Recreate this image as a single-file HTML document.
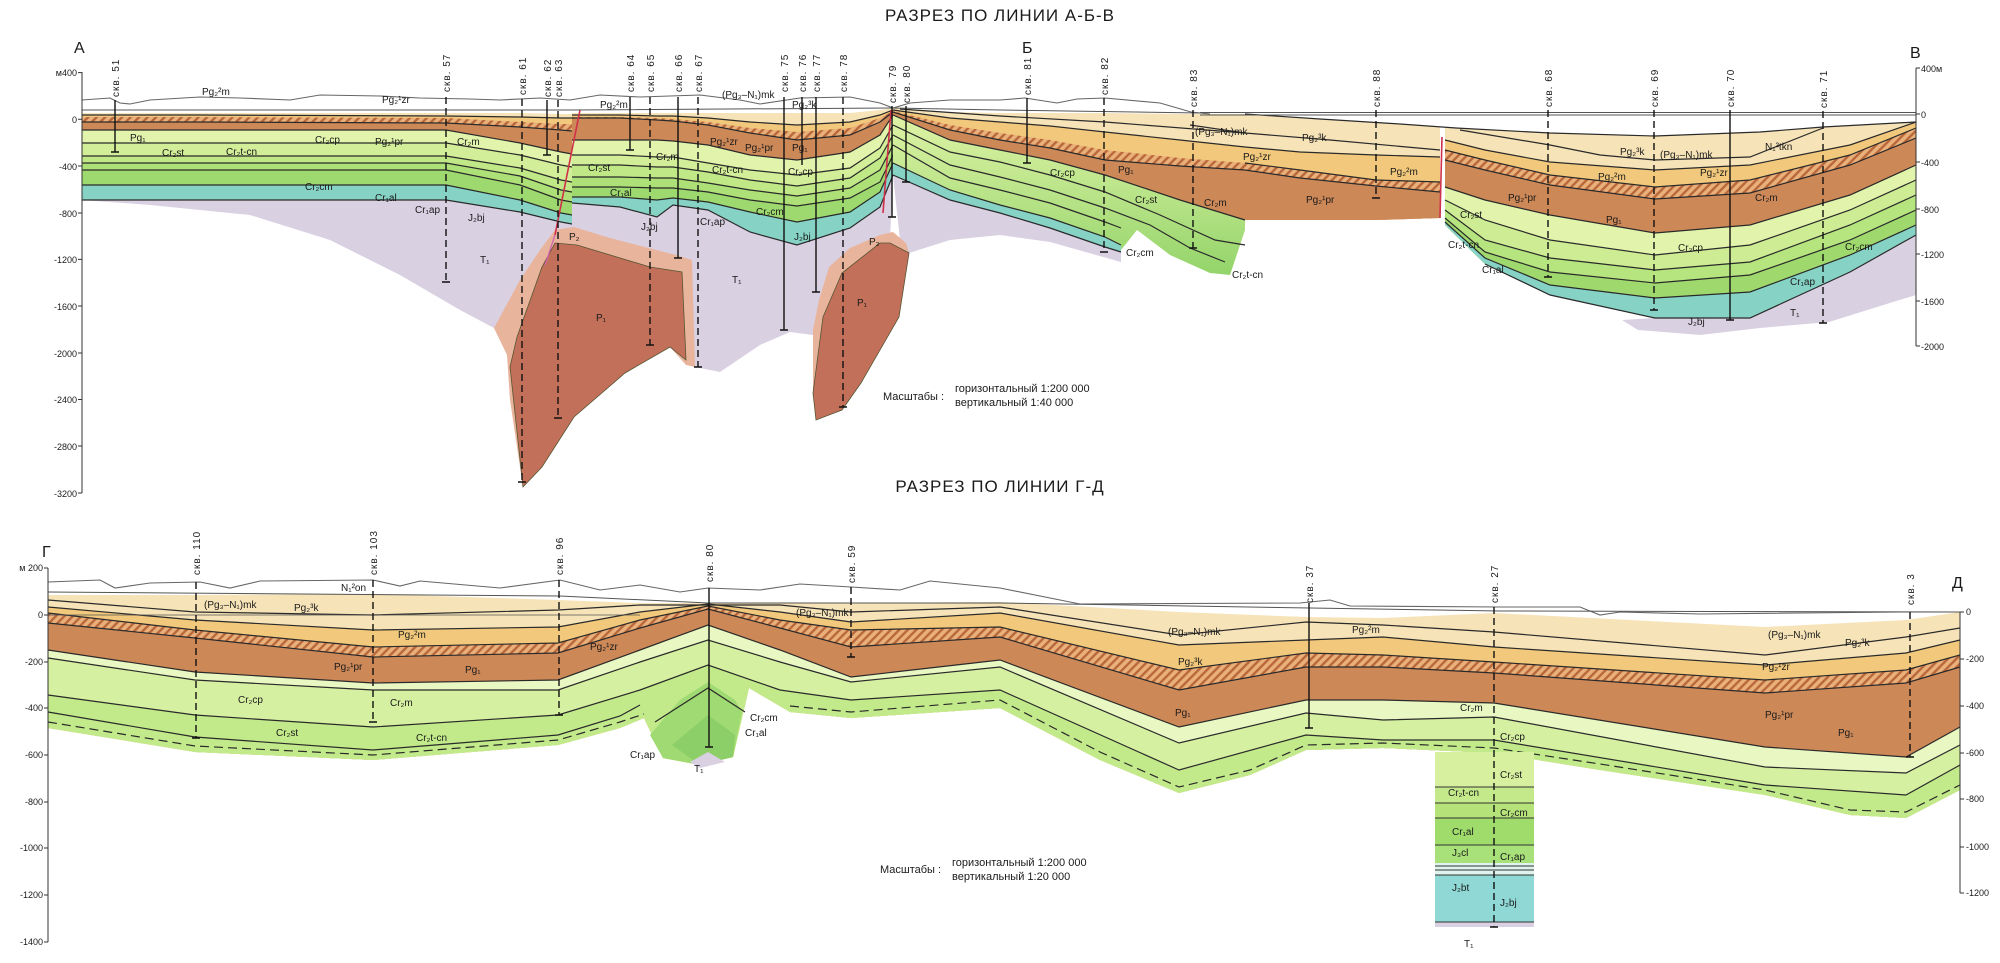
<!DOCTYPE html>
<html><head><meta charset="utf-8"><style>
html,body{margin:0;padding:0;background:#fff;}
svg{display:block;}
text{font-family:"Liberation Sans",sans-serif;fill:#1a1a1a;}
.l{font-size:10px;}
.w{font-size:10px;letter-spacing:1px;}
.ax{font-size:9px;}
.hz{fill:none;stroke:#2a2a2a;stroke-width:1.2;}
</style></head><body>
<svg width="2000" height="963" viewBox="0 0 2000 963" xmlns="http://www.w3.org/2000/svg">
<defs>
<pattern id="h" width="6" height="6" patternUnits="userSpaceOnUse" patternTransform="rotate(45)"><rect width="6" height="6" fill="#eab07a"/><rect width="2.4" height="6" fill="#b9683c"/></pattern>
<linearGradient id="gb" x1="0" y1="0" x2="0" y2="1"><stop offset="0" stop-color="#dff3a6"/><stop offset="1" stop-color="#93d46a"/></linearGradient>
</defs>
<rect width="2000" height="963" fill="#fff"/>

<text x="1000" y="21" text-anchor="middle" style="font-size:17px;letter-spacing:1px">РАЗРЕЗ ПО ЛИНИИ А-Б-В</text>
<text x="1000" y="492" text-anchor="middle" style="font-size:17px;letter-spacing:1px">РАЗРЕЗ ПО ЛИНИИ Г-Д</text>
<text x="74" y="53" style="font-size:16px">А</text>
<text x="1022" y="53" style="font-size:16px">Б</text>
<text x="1910" y="58" style="font-size:16px">В</text>
<text x="42" y="557" style="font-size:16px">Г</text>
<text x="1952" y="588" style="font-size:16px">Д</text>

<polygon fill="#d9d0e2" points="82,200 150,205 250,215 330,240 400,275 460,310 494,328 520,380 560,360 600,340 650,330 695,367 720,372 760,345 790,332 813,335 840,300 890,240 893,175 880,207 850,228 797,245 750,232 708,210 673,205 657,217 620,207 572,203 572,224 561,222 520,212 446,200 200,200"/>
<polygon fill="#d9d0e2" points="893,175 950,200 1000,213 1050,228 1105,247 1121,252 1121,262 1050,242 1000,235 950,240 909,253 900,240"/>
<polygon fill="#d9d0e2" points="1622,320 1655,318 1750,318 1850,272 1916,235 1916,295 1893,302 1829,322 1760,328 1700,335 1638,330"/>
<polygon fill="#e9b49c" points="494,328 520,280 540,250 555,230 574,227 610,238 676,255 692,260 695,367 686,365 670,347 625,373 574,417 542,467 523,487 510,400 507,355"/>
<polygon fill="#c2705a" stroke="#553" stroke-width="0.8" points="555,243 577,245 650,267 682,272 686,360 670,347 625,373 574,417 542,467 523,487 510,367 517,337 542,267"/>
<polygon fill="#e9b49c" points="813,330 819,300 829,267 850,248 880,235 893,232 906,243 909,253 899,317 861,383 842,410 816,420 813,393"/>
<polygon fill="#c2705a" stroke="#553" stroke-width="0.8" points="880,243 890,243 909,253 899,317 861,383 842,410 816,420 813,393 823,317 842,273"/>

<g>
<polygon fill="#f6e3b8" points="82,113 200,113 446,113 520,113 561,114 572,114 572,224 561,222 520,212 446,200 200,200 82,200"/>
<polygon fill="#f2c97c" points="82,115 200,115 446,116 520,117 561,118 572,118 572,224 561,222 520,212 446,200 200,200 82,200"/>
<polygon fill="url(#h)" points="82,117 200,117 446,118 520,122 561,124 572,124 572,224 561,222 520,212 446,200 200,200 82,200"/>
<polygon fill="#cd8858" points="82,122 200,122 446,123 520,127 561,130 572,131 572,224 561,222 520,212 446,200 200,200 82,200"/>
<polygon fill="#e2f4ac" points="82,130 200,130 446,130 520,143 561,152 572,154 572,224 561,222 520,212 446,200 200,200 82,200"/>
<polygon fill="#d2ee98" points="82,143 200,143 446,143 520,155 561,165 572,167 572,224 561,222 520,212 446,200 200,200 82,200"/>
<polygon fill="#c0e886" points="82,156 200,156 446,156 520,168 561,180 572,182 572,224 561,222 520,212 446,200 200,200 82,200"/>
<polygon fill="#aee078" points="82,163 200,163 446,163 520,176 561,190 572,192 572,224 561,222 520,212 446,200 200,200 82,200"/>
<polygon fill="#9dd96e" points="82,170 200,170 446,170 520,185 561,200 572,202 572,224 561,222 520,212 446,200 200,200 82,200"/>
<polygon fill="#86d3c6" points="82,185 200,185 446,185 520,200 561,213 572,215 572,224 561,222 520,212 446,200 200,200 82,200"/>
<polyline class="hz" points="82,122 200,122 446,123 520,127 561,130 572,131"/>
<polyline class="hz" points="82,130 200,130 446,130 520,143 561,152 572,154"/>
<polyline class="hz" points="82,143 200,143 446,143 520,155 561,165 572,167"/>
<polyline class="hz" points="82,156 200,156 446,156 520,168 561,180 572,182"/>
<polyline class="hz" points="82,163 200,163 446,163 520,176 561,190 572,192"/>
<polyline class="hz" points="82,170 200,170 446,170 520,185 561,200 572,202"/>
<polyline class="hz" points="82,185 200,185 446,185 520,200 561,213 572,215"/>
<polyline class="hz" points="82,200 200,200 446,200 520,212 561,222 572,224"/>
<polyline class="hz" stroke-width="0.8" points="82,115 200,115 446,116 520,117 561,118 572,118"/>
</g>

<g>
<polygon fill="#f6e3b8" points="572,113 620,113 657,113 673,113 708,113 750,113 797,113 850,113 880,110 893,108 893,175 880,207 850,228 797,245 750,232 708,210 673,205 657,217 620,207 572,203"/>
<polygon fill="#f2c97c" points="572,115 620,115 657,116 673,116 708,118 750,122 797,125 850,122 880,115 893,110 893,175 880,207 850,228 797,245 750,232 708,210 673,205 657,217 620,207 572,203"/>
<polygon fill="url(#h)" points="572,117 620,117 657,118 673,119 708,122 750,128 797,132 850,128 880,118 893,111 893,175 880,207 850,228 797,245 750,232 708,210 673,205 657,217 620,207 572,203"/>
<polygon fill="#cd8858" points="572,118 620,118 657,120 673,121 708,125 750,133 797,140 850,135 880,122 893,112 893,175 880,207 850,228 797,245 750,232 708,210 673,205 657,217 620,207 572,203"/>
<polygon fill="#e2f4ac" points="572,140 620,140 657,140 673,141 708,145 750,155 797,160 850,152 880,135 893,115 893,175 880,207 850,228 797,245 750,232 708,210 673,205 657,217 620,207 572,203"/>
<polygon fill="#d2ee98" points="572,155 620,155 657,157 673,157 708,163 750,170 797,175 850,168 880,148 893,125 893,175 880,207 850,228 797,245 750,232 708,210 673,205 657,217 620,207 572,203"/>
<polygon fill="#c0e886" points="572,165 620,165 657,167 673,167 708,172 750,180 797,186 850,178 880,158 893,135 893,175 880,207 850,228 797,245 750,232 708,210 673,205 657,217 620,207 572,203"/>
<polygon fill="#aee078" points="572,177 620,177 657,178 673,178 708,183 750,190 797,196 850,188 880,170 893,145 893,175 880,207 850,228 797,245 750,232 708,210 673,205 657,217 620,207 572,203"/>
<polygon fill="#9dd96e" points="572,187 620,187 657,188 673,188 708,192 750,200 797,206 850,198 880,182 893,155 893,175 880,207 850,228 797,245 750,232 708,210 673,205 657,217 620,207 572,203"/>
<polygon fill="#86d3c6" points="572,197 620,197 657,200 673,198 708,202 750,212 797,222 850,212 880,192 893,163 893,175 880,207 850,228 797,245 750,232 708,210 673,205 657,217 620,207 572,203"/>
<polyline class="hz" stroke-width="0.8" points="572,115 620,115 657,116 673,116 708,118 750,122 797,125 850,122 880,115 893,110"/>
<polyline class="hz" points="572,118 620,118 657,120 673,121 708,125 750,133 797,140 850,135 880,122 893,112"/>
<polyline class="hz" points="572,140 620,140 657,140 673,141 708,145 750,155 797,160 850,152 880,135 893,115"/>
<polyline class="hz" points="572,155 620,155 657,157 673,157 708,163 750,170 797,175 850,168 880,148 893,125"/>
<polyline class="hz" points="572,165 620,165 657,167 673,167 708,172 750,180 797,186 850,178 880,158 893,135"/>
<polyline class="hz" points="572,177 620,177 657,178 673,178 708,183 750,190 797,196 850,188 880,170 893,145"/>
<polyline class="hz" points="572,187 620,187 657,188 673,188 708,192 750,200 797,206 850,198 880,182 893,155"/>
<polyline class="hz" points="572,197 620,197 657,200 673,198 708,202 750,212 797,222 850,212 880,192 893,163"/>
<polyline class="hz" points="572,203 620,207 657,217 673,205 708,210 750,232 797,245 850,228 880,207 893,175"/>
</g>

<g>
<polygon fill="#f6e3b8" points="893,108 950,112 1000,113 1050,113 1105,113 1180,114 1245,114 1245,220 1180,200 1105,175 1050,160 1000,150 950,140 893,115"/>
<polygon fill="#f2c97c" points="893,110 950,118 1000,122 1050,126 1105,132 1180,140 1245,147 1245,220 1180,200 1105,175 1050,160 1000,150 950,140 893,115"/>
<polygon fill="#f6e3b8" points="893,110 950,118 1000,122 1050,126 1105,130 1180,136 1245,140 1245,147 1180,140 1105,132 1050,126 1000,122 950,118"/>
<polygon fill="url(#h)" points="893,111 950,125 1000,133 1050,140 1105,150 1180,158 1245,163 1245,220 1180,200 1105,175 1050,160 1000,150 950,140 893,115"/>
<polygon fill="#cd8858" points="893,112 950,130 1000,140 1050,148 1105,160 1180,166 1245,170 1245,220 1180,200 1105,175 1050,160 1000,150 950,140 893,115"/>
<polygon fill="url(#gb)" points="893,115 950,140 1000,150 1050,160 1105,175 1180,200 1245,220 1245,230 1230,275 1210,273 1170,255 1137,230 1121,250 1121,252 1105,247 1050,228 1000,213 950,200 893,175"/>
<polygon fill="#86d3c6" points="893,163 950,190 1000,205 1050,218 1105,237 1121,245 1121,252 1105,247 1050,228 1000,213 950,200 893,175"/>
<polyline class="hz" points="893,115 950,140 1000,150 1050,160 1105,175 1180,200 1245,220"/>
<polyline class="hz" points="893,112 950,130 1000,140 1050,148 1105,160 1180,166 1245,170"/>
<polyline class="hz" stroke-width="0.8" points="893,110 950,118 1000,122 1050,126 1105,132 1180,140 1245,147"/>
<polyline class="hz" stroke-width="0.8" points="900,109 1000,116 1105,122 1245,133"/>
<polyline class="hz" points="893,125 950,152 1000,162 1050,175 1105,192 1160,215 1215,240 1245,245"/>
<polyline class="hz" points="893,135 950,165 1000,177 1050,190 1105,208 1150,225 1190,248 1225,262"/>
<polyline class="hz" points="893,145 950,178 1000,190 1050,203 1105,222 1121,228"/>
<polyline class="hz" points="893,163 950,190 1000,205 1050,218 1105,237 1121,245"/>
<polyline class="hz" points="893,175 950,200 1000,213 1050,228 1105,247 1121,252"/>
</g>
<g>
<polygon fill="#f6e3b8" points="1245,114 1300,114 1376,114 1440,114 1440,218 1376,220 1300,220 1245,220"/>
<polygon fill="#f2c97c" points="1245,147 1300,152 1376,155 1440,157 1440,218 1376,220 1300,220 1245,220"/>
<polygon fill="url(#h)" points="1245,163 1300,170 1376,180 1440,182 1440,218 1376,220 1300,220 1245,220"/>
<polygon fill="#cd8858" points="1245,170 1300,178 1376,186 1440,192 1440,218 1376,220 1300,220 1245,220"/>
<polyline class="hz" points="1245,170 1300,178 1376,186 1440,192"/>
<polyline class="hz" points="1245,163 1300,170 1376,180 1440,182"/>
<polyline class="hz" points="1245,147 1300,152 1376,155 1440,157"/>
<polyline class="hz" stroke-width="0.8" points="1190,125 1245,133 1330,140 1440,150"/>
</g>
<g>
<polygon fill="#f6e3b8" points="1445,114 1485,114 1550,114 1655,114 1750,114 1850,114 1916,114 1916,235 1850,272 1750,318 1655,318 1550,295 1485,264 1445,225"/>
<polygon fill="#f2c97c" points="1445,140 1485,150 1550,162 1655,170 1750,165 1850,145 1916,122 1916,235 1850,272 1750,318 1655,318 1550,295 1485,264 1445,225"/>
<polygon fill="url(#h)" points="1445,150 1485,160 1550,175 1655,187 1750,180 1850,155 1916,128 1916,235 1850,272 1750,318 1655,318 1550,295 1485,264 1445,225"/>
<polygon fill="#cd8858" points="1445,160 1485,170 1550,185 1655,199 1750,193 1850,165 1916,138 1916,235 1850,272 1750,318 1655,318 1550,295 1485,264 1445,225"/>
<polygon fill="#e2f4ac" points="1445,187 1485,200 1550,215 1655,233 1750,225 1850,195 1916,165 1916,235 1850,272 1750,318 1655,318 1550,295 1485,264 1445,225"/>
<polygon fill="#cdec94" points="1445,200 1485,220 1550,240 1655,255 1750,245 1850,210 1916,180 1916,235 1850,272 1750,318 1655,318 1550,295 1485,264 1445,225"/>
<polygon fill="#b6e47e" points="1445,210 1485,240 1550,258 1655,270 1750,262 1850,225 1916,195 1916,235 1850,272 1750,318 1655,318 1550,295 1485,264 1445,225"/>
<polygon fill="#9fd96e" points="1445,218 1485,252 1550,272 1655,283 1750,275 1850,240 1916,210 1916,235 1850,272 1750,318 1655,318 1550,295 1485,264 1445,225"/>
<polygon fill="#86d3c6" points="1445,222 1485,258 1550,285 1655,298 1750,292 1850,255 1916,225 1916,235 1850,272 1750,318 1655,318 1550,295 1485,264 1445,225"/>
<polyline class="hz" stroke-width="0.8" points="1460,130 1550,145 1600,155 1655,160 1750,157 1823,128"/>
<polyline class="hz" points="1445,140 1485,150 1550,162 1655,170 1750,165 1850,145 1916,122"/>
<polyline class="hz" points="1445,150 1485,160 1550,175 1655,187 1750,180 1850,155 1916,128"/>
<polyline class="hz" points="1445,160 1485,170 1550,185 1655,199 1750,193 1850,165 1916,138"/>
<polyline class="hz" points="1445,187 1485,200 1550,215 1655,233 1750,225 1850,195 1916,165"/>
<polyline class="hz" points="1445,200 1485,220 1550,240 1655,255 1750,245 1850,210 1916,180"/>
<polyline class="hz" points="1445,210 1485,240 1550,258 1655,270 1750,262 1850,225 1916,195"/>
<polyline class="hz" points="1445,218 1485,252 1550,272 1655,283 1750,275 1850,240 1916,210"/>
<polyline class="hz" points="1445,222 1485,258 1550,285 1655,298 1750,292 1850,255 1916,225"/>
<polyline class="hz" points="1485,264 1550,295 1655,318 1750,318 1850,272 1916,235"/>
</g>
<polygon fill="#fff" points="1245,114 1916,114 1916,122 1823,127 1760,132 1655,136 1550,133 1456,128 1400,124 1320,119"/>
<polyline class="hz" stroke-width="0.8" points="1245,114 1320,119 1400,124 1456,128 1550,133 1655,136 1760,132 1823,127 1916,122"/>
<line x1="580" y1="110" x2="555" y2="235" stroke="#d0304a" stroke-width="1.6"/>
<line x1="555" y1="235" x2="545" y2="265" stroke="#d060b0" stroke-width="1.2"/>
<line x1="891" y1="110" x2="883" y2="213" stroke="#d0304a" stroke-width="1.6"/>
<line x1="1442" y1="137" x2="1440" y2="218" stroke="#d0304a" stroke-width="1.6"/>

<polyline fill="none" stroke="#666" stroke-width="1.1" points="82,100 110,98 120,103 130,104 150,100 200,97 240,98 290,100 320,95 380,96 420,98 470,99 500,100 540,98 570,100 600,95 640,97 700,95 740,100 760,104 800,98 850,97 880,103 893,108 910,103 950,100 1000,100 1025,98 1057,103 1077,99 1105,98 1160,103 1191,112 1210,114"/>
<polyline fill="none" stroke="#555" stroke-width="1" points="82,110 572,110 893,108 1000,110 1200,113"/>
<line x1="1200" y1="112.5" x2="1916" y2="112.5" stroke="#555" stroke-width="1"/>
<line x1="1200" y1="115" x2="1916" y2="115" stroke="#555" stroke-width="1"/>

<g stroke="#333" stroke-width="1" fill="none">
<line x1="82" y1="72" x2="82" y2="493"/>
<path d="M82,72.6h-4M82,119.3h-4M82,166h-4M82,213h-4M82,259.4h-4M82,306h-4M82,353h-4M82,399.5h-4M82,446h-4M82,493h-4"/>
<line x1="1916" y1="68" x2="1916" y2="346"/>
<path d="M1916,68h4M1916,114h4M1916,162h4M1916,209h4M1916,254h4M1916,301h4M1916,346h4"/>
</g>
<g class="ax" text-anchor="end">
<text x="77" y="76">м400</text><text x="77" y="123">0</text><text x="77" y="170">-400</text><text x="77" y="217">-800</text><text x="77" y="263">-1200</text><text x="77" y="310">-1600</text><text x="77" y="357">-2000</text><text x="77" y="403">-2400</text><text x="77" y="450">-2800</text><text x="77" y="497">-3200</text>
</g>
<g class="ax">
<text x="1921" y="72">400м</text><text x="1921" y="118">0</text><text x="1921" y="166">-400</text><text x="1921" y="213">-800</text><text x="1921" y="258">-1200</text><text x="1921" y="305">-1600</text><text x="1921" y="350">-2000</text>
</g>

<g stroke="#111" stroke-width="1.4">
<line x1="115" y1="100" x2="115" y2="152"/>
<line x1="446" y1="97" x2="446" y2="282" stroke-dasharray="7 4"/>
<line x1="522" y1="99" x2="522" y2="482" stroke-dasharray="7 4"/>
<line x1="547" y1="100" x2="547" y2="155"/>
<line x1="558" y1="100" x2="558" y2="418" stroke-dasharray="7 4"/>
<line x1="630" y1="97" x2="630" y2="150"/>
<line x1="650" y1="97" x2="650" y2="345" stroke-dasharray="7 4"/>
<line x1="678" y1="97" x2="678" y2="258"/>
<line x1="698" y1="97" x2="698" y2="367" stroke-dasharray="7 4"/>
<line x1="784" y1="97" x2="784" y2="330"/>
<line x1="802" y1="97" x2="802" y2="165"/>
<line x1="816" y1="97" x2="816" y2="292"/>
<line x1="843" y1="97" x2="843" y2="407" stroke-dasharray="7 4"/>
<line x1="892" y1="106" x2="892" y2="217"/>
<line x1="906" y1="106" x2="906" y2="182"/>
<line x1="1027" y1="98" x2="1027" y2="163"/>
<line x1="1104" y1="98" x2="1104" y2="252" stroke-dasharray="7 4"/>
<line x1="1193" y1="110" x2="1193" y2="248" stroke-dasharray="7 4"/>
<line x1="1376" y1="110" x2="1376" y2="198" stroke-dasharray="7 4"/>
<line x1="1548" y1="110" x2="1548" y2="277" stroke-dasharray="7 4"/>
<line x1="1654" y1="110" x2="1654" y2="310" stroke-dasharray="7 4"/>
<line x1="1730" y1="110" x2="1730" y2="320"/>
<line x1="1823" y1="111" x2="1823" y2="323" stroke-dasharray="7 4"/>
<path d="M111,152h8M442,282h8M518,482h8M543,155h8M554,418h8M626,150h8M646,345h8M674,258h8M694,367h8M780,330h8M812,292h8M839,407h8M888,217h8M902,182h8M1023,163h8M1100,252h8M1189,248h8M1372,198h8M1544,277h8M1650,310h8M1726,320h8M1819,323h8"/>
</g>
<g class="w">
<text transform="translate(119,97) rotate(-90)">скв. 51</text>
<text transform="translate(450,92) rotate(-90)">скв. 57</text>
<text transform="translate(526,95) rotate(-90)">скв. 61</text>
<text transform="translate(551,97) rotate(-90)">скв. 62</text>
<text transform="translate(562,97) rotate(-90)">скв. 63</text>
<text transform="translate(634,92) rotate(-90)">скв. 64</text>
<text transform="translate(654,92) rotate(-90)">скв. 65</text>
<text transform="translate(682,92) rotate(-90)">скв. 66</text>
<text transform="translate(702,92) rotate(-90)">скв. 67</text>
<text transform="translate(788,92) rotate(-90)">скв. 75</text>
<text transform="translate(806,92) rotate(-90)">скв. 76</text>
<text transform="translate(820,92) rotate(-90)">скв. 77</text>
<text transform="translate(847,92) rotate(-90)">скв. 78</text>
<text transform="translate(896,103) rotate(-90)">скв. 79</text>
<text transform="translate(910,103) rotate(-90)">скв. 80</text>
<text transform="translate(1031,95) rotate(-90)">скв. 81</text>
<text transform="translate(1108,95) rotate(-90)">скв. 82</text>
<text transform="translate(1197,107) rotate(-90)">скв. 83</text>
<text transform="translate(1380,107) rotate(-90)">скв. 88</text>
<text transform="translate(1552,107) rotate(-90)">скв. 68</text>
<text transform="translate(1658,107) rotate(-90)">скв. 69</text>
<text transform="translate(1734,107) rotate(-90)">скв. 70</text>
<text transform="translate(1827,108) rotate(-90)">скв. 71</text>
</g>

<g class="l">
<text x="202" y="95">Pg₂²m</text><text x="382" y="103">Pg₂¹zr</text><text x="130" y="141">Pg₁</text>
<text x="162" y="156">Cr₂st</text><text x="226" y="155">Cr₂t-cn</text><text x="315" y="143">Cr₂cp</text>
<text x="375" y="145">Pg₂¹pr</text><text x="457" y="145">Cr₂m</text><text x="305" y="190">Cr₂cm</text>
<text x="375" y="201">Cr₁al</text><text x="415" y="213">Cr₁ap</text><text x="468" y="221">J₂bj</text>
<text x="600" y="108">Pg₂²m</text><text x="722" y="98">(Pg₃–N₁)mk</text><text x="792" y="108">Pg₂³k</text>
<text x="588" y="171">Cr₂st</text><text x="656" y="160">Cr₂m</text><text x="610" y="196">Cr₁al</text>
<text x="710" y="145">Pg₂¹zr</text><text x="745" y="151">Pg₂¹pr</text><text x="792" y="151">Pg₁</text>
<text x="788" y="175">Cr₂cp</text><text x="712" y="173">Cr₂t-cn</text><text x="756" y="215">Cr₂cm</text>
<text x="700" y="225">Cr₁ap</text><text x="641" y="230">J₂bj</text><text x="794" y="240">J₂bj</text>
<text x="569" y="240">P₂</text><text x="869" y="245">P₂</text>
<text x="480" y="263">T₁</text><text x="732" y="283">T₁</text>
<text x="596" y="321">P₁</text><text x="857" y="306">P₁</text>
<text x="1050" y="176">Cr₂cp</text><text x="1118" y="173">Pg₁</text><text x="1135" y="203">Cr₂st</text>
<text x="1126" y="256">Cr₂cm</text><text x="1232" y="278">Cr₂t-cn</text>
<text x="1195" y="135">(Pg₃–N₁)mk</text><text x="1302" y="141">Pg₂³k</text><text x="1243" y="160">Pg₂¹zr</text>
<text x="1390" y="175">Pg₂²m</text><text x="1306" y="203">Pg₂¹pr</text><text x="1204" y="206">Cr₂m</text>
<text x="1508" y="201">Pg₂¹pr</text><text x="1460" y="218">Cr₂st</text><text x="1448" y="248">Cr₂t-cn</text>
<text x="1482" y="273">Cr₁al</text><text x="1620" y="155">Pg₂³k</text><text x="1660" y="158">(Pg₃–N₁)mk</text>
<text x="1765" y="150">N₁²tkn</text><text x="1598" y="180">Pg₂²m</text><text x="1700" y="176">Pg₂¹zr</text>
<text x="1606" y="223">Pg₁</text><text x="1755" y="201">Cr₂m</text><text x="1678" y="251">Cr₂cp</text>
<text x="1845" y="250">Cr₂cm</text><text x="1790" y="285">Cr₁ap</text><text x="1688" y="325">J₂bj</text>
<text x="1790" y="316">T₁</text>
</g>
<text x="883" y="400" style="font-size:11px">Масштабы :</text>
<text x="955" y="392" style="font-size:11px">горизонтальный 1:200 000</text>
<text x="955" y="406" style="font-size:11px">вертикальный 1:40 000</text>

<g>
<polygon fill="#f6e3b8" points="48,595 195,595 373,594 558,600 640,603 708,603 780,603 851,603 1000,602 1179,612 1306,617 1383,618 1494,613 1765,627 1906,620 1960,612 1960,790 1906,818 1850,815 1765,795 1600,770 1494,753 1383,748 1306,750 1250,775 1179,793 1100,760 1000,708 851,718 790,712 749,688 733,757 700,765 663,758 644,718 620,728 558,745 373,760 195,752 48,728"/>
<polygon fill="#f2c97c" points="48,607 195,620 373,630 558,627 640,612 708,604 780,612 851,622 1000,613 1179,645 1306,640 1383,637 1494,647 1765,665 1906,653 1960,640 1960,790 1906,818 1850,815 1765,795 1600,770 1494,753 1383,748 1306,750 1250,775 1179,793 1100,760 1000,708 851,718 790,712 749,688 733,757 700,765 663,758 644,718 620,728 558,745 373,760 195,752 48,728"/>
<polygon fill="url(#h)" points="48,613 195,630 373,647 558,643 640,620 708,606 780,620 851,630 1000,627 1179,670 1306,653 1383,655 1494,662 1765,680 1906,670 1960,655 1960,790 1906,818 1850,815 1765,795 1600,770 1494,753 1383,748 1306,750 1250,775 1179,793 1100,760 1000,708 851,718 790,712 749,688 733,757 700,765 663,758 644,718 620,728 558,745 373,760 195,752 48,728"/>
<polygon fill="#cd8858" points="48,623 195,638 373,657 558,653 640,628 708,609 780,628 851,647 1000,637 1179,690 1306,667 1383,667 1494,673 1765,693 1906,683 1960,667 1960,790 1906,818 1850,815 1765,795 1600,770 1494,753 1383,748 1306,750 1250,775 1179,793 1100,760 1000,708 851,718 790,712 749,688 733,757 700,765 663,758 644,718 620,728 558,745 373,760 195,752 48,728"/>
<polygon fill="#e9f7c2" points="48,650 195,672 373,683 558,680 640,650 708,625 780,650 851,677 1000,660 1179,727 1306,700 1383,700 1494,703 1765,747 1906,757 1960,727 1960,790 1906,818 1850,815 1765,795 1600,770 1494,753 1383,748 1306,750 1250,775 1179,793 1100,760 1000,708 851,718 790,712 749,688 733,757 700,765 663,758 644,718 620,728 558,745 373,760 195,752 48,728"/>
<polygon fill="#d6f0a2" points="48,658 195,680 373,690 558,690 640,662 708,640 780,662 851,682 1000,667 1179,743 1306,713 1383,720 1494,717 1765,767 1906,773 1960,745 1960,790 1906,818 1850,815 1765,795 1600,770 1494,753 1383,748 1306,750 1250,775 1179,793 1100,760 1000,708 851,718 790,712 749,688 733,757 700,765 663,758 644,718 620,728 558,745 373,760 195,752 48,728"/>
<polygon fill="#c2ea8a" points="48,695 195,715 373,727 558,715 640,690 708,665 780,690 851,700 1000,690 1179,770 1306,735 1383,740 1494,740 1765,785 1906,795 1960,765 1960,790 1906,818 1850,815 1765,795 1600,770 1494,753 1383,748 1306,750 1250,775 1179,793 1100,760 1000,708 851,718 790,712 749,688 733,757 700,765 663,758 644,718 620,728 558,745 373,760 195,752 48,728"/>
<polygon fill="#9fda72" points="650,735 680,700 708,682 735,700 742,712 733,757 700,765 663,758"/>
<polygon fill="#8ccf68" points="672,745 708,715 735,735 733,757 700,765"/>
<polygon fill="#d9d0e2" points="690,762 708,752 725,762 700,768"/>
<polyline class="hz" stroke-width="0.8" points="48,607 195,620 373,630 558,627 640,612 708,604 780,612 851,622 1000,613 1179,645 1306,640 1383,637 1494,647 1765,665 1906,653 1960,640"/>
<polyline class="hz" stroke-width="0.8" points="48,600 195,612 373,615 558,610 640,605 780,605 851,612 1000,607 1179,635 1306,622 1383,625 1494,632 1765,655 1906,637 1960,628"/>
<polyline class="hz" points="48,613 195,630 373,647 558,643 640,620 708,606 780,620 851,630 1000,627 1179,670 1306,653 1383,655 1494,662 1765,680 1906,670 1960,655"/>
<polyline class="hz" points="48,623 195,638 373,657 558,653 640,628 708,609 780,628 851,647 1000,637 1179,690 1306,667 1383,667 1494,673 1765,693 1906,683 1960,667"/>
<polyline class="hz" stroke="#5a3a1a" stroke-width="1.6" points="48,650 195,672 373,683 558,680 640,650 708,625 780,650 851,677 1000,660 1179,727 1306,700 1383,700 1494,703 1765,747 1906,757 1960,727"/>
<polyline class="hz" points="48,658 195,680 373,690 558,690 640,662 708,640 780,662 851,682 1000,667 1179,743 1306,713 1383,720 1494,717 1765,767 1906,773 1960,745"/>
<polyline class="hz" points="48,695 195,715 373,727 558,715 640,690 708,665 780,690 851,700 1000,690 1179,770 1306,735 1383,740 1494,740 1765,785 1906,795 1960,765"/>
<polyline class="hz" points="48,712 195,737 373,750 558,735 620,716 640,705"/>
<polyline class="hz" points="655,722 708,688 745,712"/>
<polyline class="hz" stroke-dasharray="9 5" points="48,722 195,746 373,755 558,740 620,722 644,714"/>
<polyline class="hz" stroke-dasharray="9 5" points="790,706 851,712 1000,700 1100,752 1179,787 1250,770 1306,745 1383,743 1494,748 1600,764 1765,790 1850,810 1906,812 1960,785"/>
</g>
<g>
<rect x="1435" y="752" width="99" height="35" fill="#d7f0a0"/>
<rect x="1435" y="787" width="99" height="16" fill="#c4e98a"/>
<rect x="1435" y="803" width="99" height="15" fill="#b5e37a"/>
<rect x="1435" y="818" width="99" height="27" fill="#9fdc6c"/>
<rect x="1435" y="845" width="99" height="18" fill="#a8e07a"/>
<rect x="1435" y="863" width="99" height="12" fill="#dff3ee"/>
<rect x="1435" y="875" width="99" height="47" fill="#8fd8d6"/>
<rect x="1435" y="922" width="99" height="5" fill="#d9d0e2"/>
<path d="M1435,787h99M1435,803h99M1435,818h99M1435,845h99M1435,866h99M1435,870h99M1435,875h99M1435,922h99" stroke="#333" stroke-width="1"/>
</g>
<polyline fill="none" stroke="#666" stroke-width="1.1" points="48,582 100,580 115,588 150,583 200,582 230,588 260,581 373,580 400,586 420,581 500,588 560,580 600,590 640,585 680,592 708,588 760,590 800,584 851,587 900,590 930,581 1000,588 1060,600 1080,604 1300,603 1330,600 1350,606 1500,607 1580,607 1600,615 1620,612 1700,614 1900,612 1960,612"/>
<polyline fill="none" stroke="#555" stroke-width="1" points="48,592 560,596 708,603 1000,603 1500,611 1960,612"/>
<line x1="48" y1="615" x2="640" y2="615" stroke="#555" stroke-width="0.8"/>
<g stroke="#333" stroke-width="1" fill="none">
<line x1="48" y1="568" x2="48" y2="942"/>
<path d="M48,568h-4M48,615h-4M48,662h-4M48,708h-4M48,755h-4M48,802h-4M48,848h-4M48,895h-4M48,942h-4"/>
<line x1="1960" y1="612" x2="1960" y2="893"/>
<path d="M1960,612h4M1960,659h4M1960,706h4M1960,753h4M1960,799h4M1960,847h4M1960,893h4"/>
</g>
<g class="ax" text-anchor="end">
<text x="43" y="571">м 200</text><text x="43" y="618">0</text><text x="43" y="665">-200</text><text x="43" y="711">-400</text><text x="43" y="758">-600</text><text x="43" y="805">-800</text><text x="43" y="851">-1000</text><text x="43" y="898">-1200</text><text x="43" y="945">-1400</text>
</g>
<g class="ax">
<text x="1966" y="615">0</text><text x="1966" y="662">-200</text><text x="1966" y="709">-400</text><text x="1966" y="756">-600</text><text x="1966" y="802">-800</text><text x="1966" y="850">-1000</text><text x="1966" y="896">-1200</text>
</g>
<g stroke="#111" stroke-width="1.4">
<line x1="196" y1="582" x2="196" y2="738" stroke-dasharray="7 4"/>
<line x1="373" y1="580" x2="373" y2="722" stroke-dasharray="7 4"/>
<line x1="559" y1="580" x2="559" y2="715" stroke-dasharray="7 4"/>
<line x1="709" y1="588" x2="709" y2="747"/>
<line x1="851" y1="587" x2="851" y2="657" stroke-dasharray="7 4"/>
<line x1="1309" y1="603" x2="1309" y2="728"/>
<line x1="1494" y1="607" x2="1494" y2="927" stroke-dasharray="7 4"/>
<line x1="1910" y1="612" x2="1910" y2="757" stroke-dasharray="7 4"/>
<path d="M192,738h8M369,722h8M555,715h8M705,747h8M847,657h8M1305,728h8M1490,927h8M1906,757h8"/>
</g>
<g class="w">
<text transform="translate(200,575) rotate(-90)">скв. 110</text>
<text transform="translate(377,575) rotate(-90)">скв. 103</text>
<text transform="translate(563,575) rotate(-90)">скв. 96</text>
<text transform="translate(713,582) rotate(-90)">скв. 80</text>
<text transform="translate(855,583) rotate(-90)">скв. 59</text>
<text transform="translate(1313,603) rotate(-90)">скв. 37</text>
<text transform="translate(1498,603) rotate(-90)">скв. 27</text>
<text transform="translate(1914,605) rotate(-90)">скв. 3</text>
</g>
<g class="l">
<text x="341" y="591">N₁²on</text><text x="204" y="608">(Pg₃–N₁)mk</text><text x="294" y="611">Pg₂³k</text>
<text x="398" y="638">Pg₂²m</text><text x="334" y="670">Pg₂¹pr</text><text x="465" y="673">Pg₁</text>
<text x="590" y="650">Pg₂¹zr</text><text x="238" y="703">Cr₂cp</text><text x="390" y="706">Cr₂m</text>
<text x="276" y="736">Cr₂st</text><text x="416" y="741">Cr₂t-cn</text><text x="796" y="616">(Pg₃–N₁)mk</text>
<text x="750" y="721">Cr₂cm</text><text x="745" y="736">Cr₁al</text><text x="630" y="758">Cr₁ap</text>
<text x="694" y="772">T₁</text>
<text x="1168" y="635">(Pg₃–N₁)mk</text><text x="1178" y="665">Pg₂³k</text><text x="1175" y="716">Pg₁</text>
<text x="1352" y="633">Pg₂²m</text><text x="1460" y="711">Cr₂m</text><text x="1500" y="740">Cr₂cp</text>
<text x="1500" y="778">Cr₂st</text><text x="1448" y="796">Cr₂t-cn</text><text x="1500" y="816">Cr₂cm</text>
<text x="1452" y="835">Cr₁al</text><text x="1500" y="860">Cr₁ap</text><text x="1452" y="856">J₃cl</text>
<text x="1452" y="891">J₂bt</text><text x="1500" y="906">J₂bj</text><text x="1464" y="947">T₁</text>
<text x="1768" y="638">(Pg₃–N₁)mk</text><text x="1845" y="646">Pg₂³k</text><text x="1762" y="670">Pg₂¹zr</text>
<text x="1765" y="718">Pg₂¹pr</text><text x="1838" y="736">Pg₁</text>
</g>
<text x="880" y="873" style="font-size:11px">Масштабы :</text>
<text x="952" y="866" style="font-size:11px">горизонтальный 1:200 000</text>
<text x="952" y="880" style="font-size:11px">вертикальный 1:20 000</text>
</svg>
</body></html>
